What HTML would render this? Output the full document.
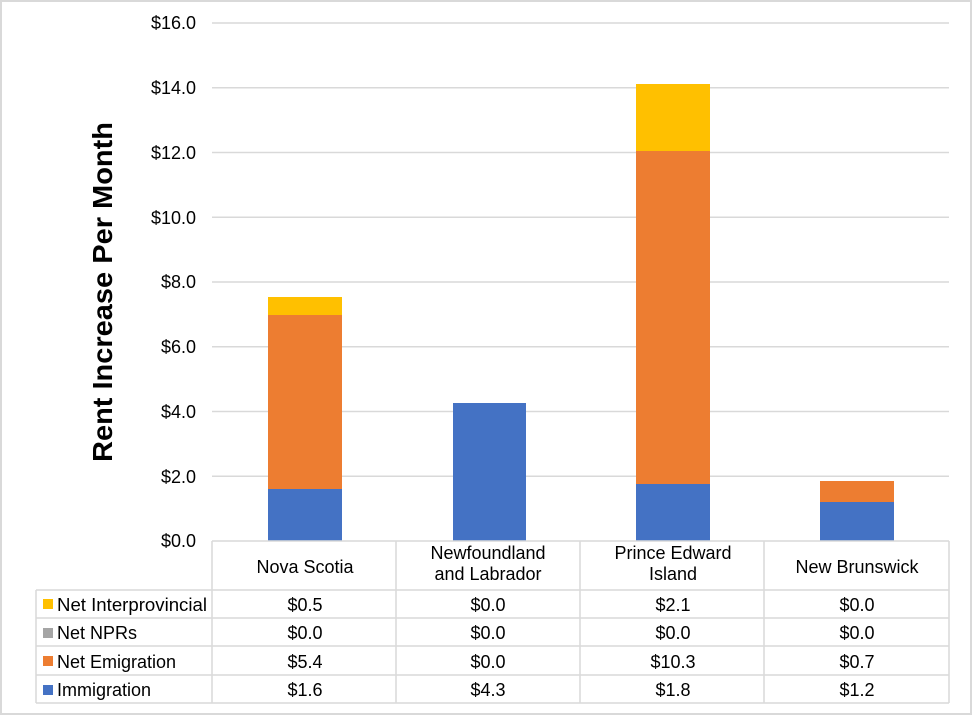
<!DOCTYPE html>
<html><head><meta charset="utf-8"><style>
body{margin:0;background:#fff}
svg{display:block;font-family:"Liberation Sans",Arial,sans-serif}
</style></head><body>
<svg width="973" height="717" viewBox="0 0 973 717">
<rect x="1" y="1" width="970" height="713" fill="#fff" stroke="#d9d9d9" stroke-width="2"/>
<g stroke="#d9d9d9" stroke-width="1.5">
<line x1="212" x2="949" y1="23" y2="23"/>
<line x1="212" x2="949" y1="87.75" y2="87.75"/>
<line x1="212" x2="949" y1="152.5" y2="152.5"/>
<line x1="212" x2="949" y1="217.25" y2="217.25"/>
<line x1="212" x2="949" y1="282" y2="282"/>
<line x1="212" x2="949" y1="346.75" y2="346.75"/>
<line x1="212" x2="949" y1="411.5" y2="411.5"/>
<line x1="212" x2="949" y1="476.25" y2="476.25"/>
</g>
<g font-size="18" fill="#000" text-anchor="end">
<text x="196" y="29">$16.0</text>
<text x="196" y="94">$14.0</text>
<text x="196" y="159">$12.0</text>
<text x="196" y="224">$10.0</text>
<text x="196" y="288">$8.0</text>
<text x="196" y="353">$6.0</text>
<text x="196" y="418">$4.0</text>
<text x="196" y="483">$2.0</text>
<text x="196" y="547">$0.0</text>
</g>
<text transform="translate(112,292) rotate(-90)" text-anchor="middle" font-size="28" font-weight="bold" textLength="340" lengthAdjust="spacingAndGlyphs">Rent Increase Per Month</text>
<rect x="268" y="489" width="74" height="52" fill="#4472c4"/>
<rect x="268" y="315" width="74" height="174" fill="#ed7d31"/>
<rect x="268" y="297" width="74" height="18" fill="#ffc000"/>
<rect x="453" y="403" width="73" height="138" fill="#4472c4"/>
<rect x="636" y="484" width="74" height="57" fill="#4472c4"/>
<rect x="636" y="151" width="74" height="333" fill="#ed7d31"/>
<rect x="636" y="84" width="74" height="67" fill="#ffc000"/>
<rect x="820" y="502" width="74" height="39" fill="#4472c4"/>
<rect x="820" y="481" width="74" height="21" fill="#ed7d31"/>
<g stroke="#d9d9d9" stroke-width="1.5" fill="none">
<line x1="212" x2="949" y1="541" y2="541"/>
<line x1="36" x2="949" y1="590" y2="590"/>
<line x1="36" x2="949" y1="618" y2="618"/>
<line x1="36" x2="949" y1="646" y2="646"/>
<line x1="36" x2="949" y1="675" y2="675"/>
<line x1="36" x2="949" y1="703" y2="703"/>
<line x1="36" x2="36" y1="590" y2="703"/>
<line x1="212" x2="212" y1="541" y2="703"/>
<line x1="396" x2="396" y1="541" y2="703"/>
<line x1="580" x2="580" y1="541" y2="703"/>
<line x1="764" x2="764" y1="541" y2="703"/>
<line x1="949" x2="949" y1="541" y2="703"/>
</g>
<g font-size="18" text-anchor="middle">
<text x="305" y="573">Nova Scotia</text>
<text x="488" y="559">Newfoundland</text>
<text x="488" y="580">and Labrador</text>
<text x="673" y="559">Prince Edward</text>
<text x="673" y="580">Island</text>
<text x="857" y="573">New Brunswick</text>
<text x="305" y="611">$0.5</text><text x="488" y="611">$0.0</text><text x="673" y="611">$2.1</text><text x="857" y="611">$0.0</text>
<text x="305" y="639">$0.0</text><text x="488" y="639">$0.0</text><text x="673" y="639">$0.0</text><text x="857" y="639">$0.0</text>
<text x="305" y="668">$5.4</text><text x="488" y="668">$0.0</text><text x="673" y="668">$10.3</text><text x="857" y="668">$0.7</text>
<text x="305" y="696">$1.6</text><text x="488" y="696">$4.3</text><text x="673" y="696">$1.8</text><text x="857" y="696">$1.2</text>
</g>
<rect x="43" y="599" width="10" height="10" fill="#ffc000"/>
<rect x="43" y="628" width="10" height="10" fill="#a5a5a5"/>
<rect x="43" y="656" width="10" height="10" fill="#ed7d31"/>
<rect x="43" y="685" width="10" height="10" fill="#4472c4"/>
<g font-size="18">
<text x="57" y="611" textLength="150" lengthAdjust="spacingAndGlyphs">Net Interprovincial</text>
<text x="57" y="639">Net NPRs</text>
<text x="57" y="668">Net Emigration</text>
<text x="57" y="696">Immigration</text>
</g>
</svg>
</body></html>
